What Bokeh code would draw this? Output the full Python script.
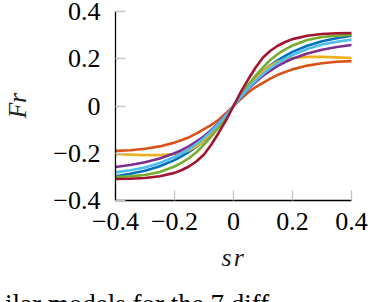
from bokeh.plotting import figure
from bokeh.models import FixedTicker, LinearAxis, Div
from bokeh.layouts import column
from bokeh.embed import file_html
from bokeh.resources import INLINE

# slip s_r
s_r = [-0.4, -0.35, -0.3, -0.25, -0.2, -0.175, -0.15, -0.125, -0.1, -0.075, -0.05, -0.025,
       0.0, 0.025, 0.05, 0.075, 0.1, 0.125, 0.15, 0.175, 0.2, 0.25, 0.3, 0.35, 0.4]

# F_r for the 7 models
f_blue = [-0.297, -0.287, -0.274, -0.255, -0.229, -0.212, -0.193, -0.172, -0.146, -0.115, -0.080, -0.042,
          0.0, 0.042, 0.080, 0.115, 0.146, 0.172, 0.193, 0.212, 0.229, 0.255, 0.274, 0.287, 0.297]
f_orange = [-0.190, -0.187, -0.181, -0.171, -0.155, -0.144, -0.132, -0.116, -0.098, -0.080, -0.058, -0.030,
            0.0, 0.030, 0.058, 0.080, 0.098, 0.116, 0.132, 0.144, 0.155, 0.171, 0.181, 0.187, 0.190]
f_yellow = [-0.203, -0.206, -0.208, -0.208, -0.203, -0.197, -0.187, -0.170, -0.145, -0.115, -0.080, -0.042,
            0.0, 0.042, 0.080, 0.115, 0.145, 0.170, 0.187, 0.197, 0.203, 0.208, 0.208, 0.206, 0.203]
f_purple = [-0.258, -0.250, -0.238, -0.222, -0.200, -0.186, -0.170, -0.150, -0.128, -0.101, -0.072, -0.037,
            0.0, 0.037, 0.072, 0.101, 0.128, 0.150, 0.170, 0.186, 0.200, 0.222, 0.238, 0.250, 0.258]
f_green = [-0.301, -0.298, -0.292, -0.279, -0.256, -0.240, -0.220, -0.195, -0.163, -0.129, -0.090, -0.047,
           0.0, 0.047, 0.090, 0.129, 0.163, 0.195, 0.220, 0.240, 0.256, 0.279, 0.292, 0.298, 0.301]
f_lightblue = [-0.281, -0.272, -0.260, -0.241, -0.216, -0.200, -0.182, -0.160, -0.135, -0.107, -0.075, -0.039,
               0.0, 0.039, 0.075, 0.107, 0.135, 0.160, 0.182, 0.200, 0.216, 0.241, 0.260, 0.272, 0.281]
f_red = [-0.309, -0.308, -0.305, -0.297, -0.283, -0.271, -0.255, -0.234, -0.205, -0.163, -0.113, -0.060,
         0.0, 0.060, 0.113, 0.163, 0.205, 0.234, 0.255, 0.271, 0.283, 0.297, 0.305, 0.308, 0.309]

ticks = [-0.4, -0.2, 0.0, 0.2, 0.4]
tick_labels = ["\u22120.4", "\u22120.2", "0", "0.2", "0.4"]
# axis titles "s" + subscript "r" and "F" + subscript "r"
x_title_parts = ["s", "r"]
y_title_parts = ["F", "r"]
caption = "ilar models for the 7 diff-"

FONT = "Liberation Serif"

p = figure(width=370, height=286, output_backend="svg", toolbar_location=None, title=None,
           x_range=(-0.4, 0.4), y_range=(-0.4, 0.4),
           min_border_left=110, min_border_right=19, min_border_top=11, min_border_bottom=86)
p.outline_line_color = None
p.xgrid.visible = False
p.ygrid.visible = False

for ax in (p.xaxis[0], p.yaxis[0]):
    ax.ticker = FixedTicker(ticks=ticks, minor_ticks=[])
    ax.major_label_overrides = {t: l for t, l in zip(ticks, tick_labels)}
    ax.major_tick_in = 10
    ax.major_tick_out = 0
    ax.major_tick_line_color = "#c4c4c4"
    ax.major_tick_line_width = 1.3
    ax.minor_tick_line_color = None
    ax.axis_line_color = "black"
    ax.axis_line_width = 1.3
    ax.major_label_text_font = FONT
    ax.major_label_text_font_size = "26px"
    ax.major_label_text_color = "black"
p.xaxis[0].major_label_standoff = 12
p.yaxis[0].major_label_standoff = 15

# title axes: the two parts of each title are placed as labels of an extra, bare axis
def title_axis(side, pos, parts, standoff, orient="horizontal"):
    ax = LinearAxis(ticker=FixedTicker(ticks=pos, minor_ticks=[]),
                    major_label_overrides={t: s for t, s in zip(pos, parts)},
                    axis_line_color=None, major_tick_line_color=None, minor_tick_line_color=None,
                    major_tick_in=0, major_tick_out=0,
                    major_label_standoff=standoff, major_label_orientation=orient,
                    major_label_text_font=FONT, major_label_text_font_size="26px",
                    major_label_text_font_style="italic", major_label_text_color="#222222")
    p.add_layout(ax, side)

title_axis("below", [-0.0232, 0.0183], x_title_parts, 10)
title_axis("left", [-0.019, 0.034], y_title_parts, 18, orient="vertical")

series = [
    (f_blue, "#0072BD"),
    (f_orange, "#D95319"),
    (f_yellow, "#EDB120"),
    (f_purple, "#7E2F8E"),
    (f_green, "#77AC30"),
    (f_lightblue, "#4DBEEE"),
    (f_red, "#A2142F"),
]
for ys, c in series:
    p.line(s_r, ys, line_color=c, line_width=2.6, line_join="round", line_cap="round")

# strip below the chart holding the (cut-off) caption line
cap = Div(text=caption, width=370, height=16, margin=0,
          styles={"overflow": "hidden", "font-family": FONT, "font-size": "27px",
                  "line-height": "27px", "white-space": "nowrap", "padding-left": "5px",
                  "padding-top": "5px", "box-sizing": "border-box", "color": "black"})

layout = column(p, cap, spacing=0)
open("out.html", "w").write(file_html(layout, INLINE))
